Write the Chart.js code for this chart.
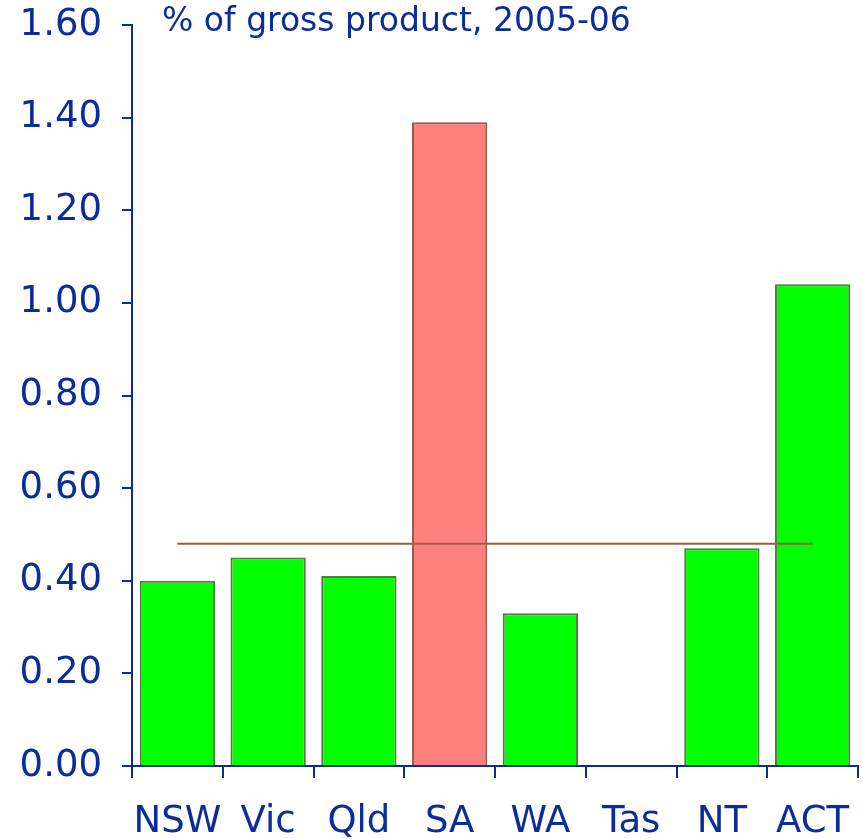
<!DOCTYPE html>
<html>
<head>
<meta charset="utf-8">
<title>% of gross product, 2005-06</title>
<script src="https://cdn.jsdelivr.net/npm/chart.js@4.4.1/dist/chart.umd.min.js"></script>
<style>
  html, body { margin: 0; padding: 0; background: #ffffff; }
  #wrap { width: 863px; height: 839px; }
</style>
</head>
<body>
<div id="wrap"><canvas id="chartGsp" width="863" height="839"></canvas></div>
<script>
// ── data ──
const states = ['NSW', 'Vic', 'Qld', 'SA', 'WA', 'Tas', 'NT', 'ACT'];
const shareOfGsp = [0.40, 0.45, 0.41, 1.39, 0.33, null, 0.47, 1.04];
const averageLine = [0.48, 0.48, 0.48, 0.48, 0.48, 0.48, 0.48, 0.48];
const yTicks = [0, 0.2, 0.4, 0.6, 0.8, 1.0, 1.2, 1.4, 1.6];
const chartTitle = '% of gross product, 2005-06';

// ── styles ──
const navy = '#0b2d9c';
const fontFamily = "'DejaVu Sans', Verdana, sans-serif";
const barFill = states.map(s => s === 'SA' ? '#ff7f7f' : '#00ff00');
const barEdge = states.map(s => s === 'SA' ? '#8b5f42' : '#4f7d40');

// title drawn as plain text next to the y axis
const titlePlugin = {
    id: 'topTitle',
    afterDraw(chart) {
        const ctx = chart.ctx;
        ctx.save();
        ctx.font = '33px ' + fontFamily;
        ctx.fillStyle = navy;
        ctx.textAlign = 'left';
        ctx.textBaseline = 'middle';
        ctx.fillText(chartTitle, 162, 22);
        ctx.restore();
    }
};

new Chart(document.getElementById('chartGsp'), {
    data: {
        labels: states,
        datasets: [
            {
                type: 'line',
                data: averageLine,
                borderColor: '#96603f',
                borderWidth: 2,
                pointRadius: 0,
                fill: false,
                order: 0
            },
            {
                type: 'bar',
                data: shareOfGsp,
                backgroundColor: barFill,
                borderColor: barEdge,
                borderWidth: 2,
                barPercentage: 0.83,
                categoryPercentage: 1,
                order: 1
            }
        ]
    },
    options: {
        responsive: false,
        animation: false,
        layout: { padding: { top: 25, right: 5, left: 0, bottom: 0 } },
        plugins: {
            legend: { display: false },
            tooltip: { enabled: false }
        },
        scales: {
            x: {
                offset: true,
                grid: {
                    offset: true,
                    drawOnChartArea: false,
                    tickLength: 12,
                    tickColor: navy,
                    lineWidth: 2
                },
                border: { color: navy, width: 2 },
                ticks: {
                    color: navy,
                    font: { family: fontFamily, size: 37 },
                    padding: 22,
                    maxRotation: 0,
                    autoSkip: false
                },
                afterFit(scale) {
                    scale.height = 73;
                    scale.paddingLeft = 0;
                    scale.paddingRight = 0;
                }
            },
            y: {
                min: 0,
                max: 1.6,
                afterBuildTicks(scale) {
                    scale.ticks = yTicks.map(v => ({ value: v }));
                },
                grid: {
                    drawOnChartArea: false,
                    tickLength: 10,
                    tickColor: navy,
                    lineWidth: 2
                },
                border: { color: navy, width: 2 },
                ticks: {
                    color: navy,
                    font: { family: fontFamily, size: 37 },
                    padding: 20,
                    callback: v => Number(v).toFixed(2)
                },
                afterFit(scale) {
                    scale.width = 132;
                    scale.paddingTop = 0;
                    scale.paddingBottom = 0;
                }
            }
        }
    },
    plugins: [titlePlugin]
});
</script>
</body>
</html>
